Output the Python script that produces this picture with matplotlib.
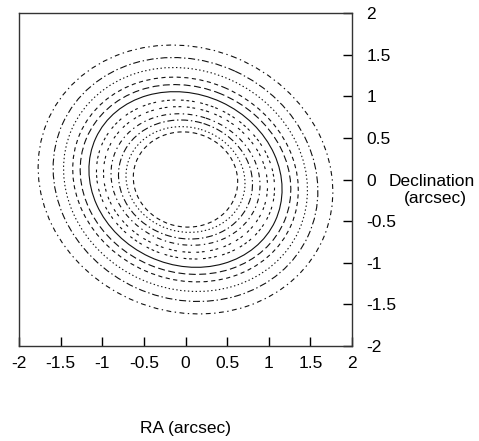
import numpy as np
import matplotlib.pyplot as plt
from matplotlib.patches import Ellipse

plt.rcParams['font.family'] = ['Liberation Sans', 'DejaVu Sans']
plt.rcParams['axes.unicode_minus'] = False
plt.rcParams['lines.scale_dashes'] = False

# contour levels, outer -> inner
# half width, half height and x of the topmost point (gives the tilt)
x_ext = [1.77, 1.59, 1.465, 1.355, 1.265, 1.16, 1.07, 0.985, 0.895, 0.805, 0.715, 0.627]
y_ext = [1.615, 1.465, 1.345, 1.23, 1.14, 1.055, 0.955, 0.875, 0.79, 0.715, 0.635, 0.572]
x_top = [-0.16, -0.15, -0.14, -0.14, -0.13, -0.13, -0.11, -0.09, -0.08, -0.06, -0.05, -0.03]

# gnuplot-like dash types
styles = [
    (0, (3.5, 2.5, 1, 2.5)),
    (0, (5, 2, 1, 2)),
    (0, (1, 1.8)),
    (0, (3, 2.5)),
    (0, (5, 2.5)),
    '-',
    (0, (2, 2, 2, 2, 2, 4)),
    (0, (2, 2, 2, 4)),
    (0, (3.5, 2.5, 1, 2.5)),
    (0, (5, 2, 1, 2)),
    (0, (1, 1.8)),
    (0, (3, 2.5)),
]

xticks = [-2, -1.5, -1, -0.5, 0, 0.5, 1, 1.5, 2]
yticks = [-2, -1.5, -1, -0.5, 0, 0.5, 1, 1.5, 2]

W, H = 479, 441
fig = plt.figure(figsize=(W/100, H/100), dpi=100)
ax = fig.add_axes([19/W, 1-346/H, 333/W, 333/H])

for xe, ye, xt, ls in zip(x_ext, y_ext, x_top, styles):
    M = np.array([[xe**2, xt*ye], [xt*ye, ye**2]])
    w, v = np.linalg.eigh(M)
    ang = np.degrees(np.arctan2(v[1, 1], v[0, 1]))
    e = Ellipse((0, 0), 2*np.sqrt(w[1]), 2*np.sqrt(w[0]), angle=ang,
                fill=False, ec='#111111', lw=0.8, ls=ls)
    ax.add_patch(e)

ax.set_xlim(-2, 2)
ax.set_ylim(-2, 2)
ax.set_xticks(xticks)
ax.set_yticks(yticks)
ax.set_xticklabels(['%g' % t for t in xticks])
ax.set_yticklabels(['%g' % t for t in yticks])
ax.tick_params(axis='x', direction='in', length=6.5, width=1, bottom=True, top=False,
               labelsize=12.5, pad=7)
ax.tick_params(axis='y', direction='in', length=6.5, width=1, left=False, right=True,
               labelleft=False, labelright=True, labelsize=12.5, pad=10.5)
for s in ax.spines.values():
    s.set_linewidth(1)
    s.set_color('#333333')

fig.text(431.5/W, 1-181.7/H, 'Declination', ha='center', va='center', fontsize=12.5)
fig.text(435.6/W, 1-198/H, '(arcsec)', ha='center', va='center', fontsize=12.5)
fig.text(185.7/W, 1-428/H, 'RA (arcsec)', ha='center', va='center', fontsize=12.5)

fig.savefig('out.png', dpi=100)
